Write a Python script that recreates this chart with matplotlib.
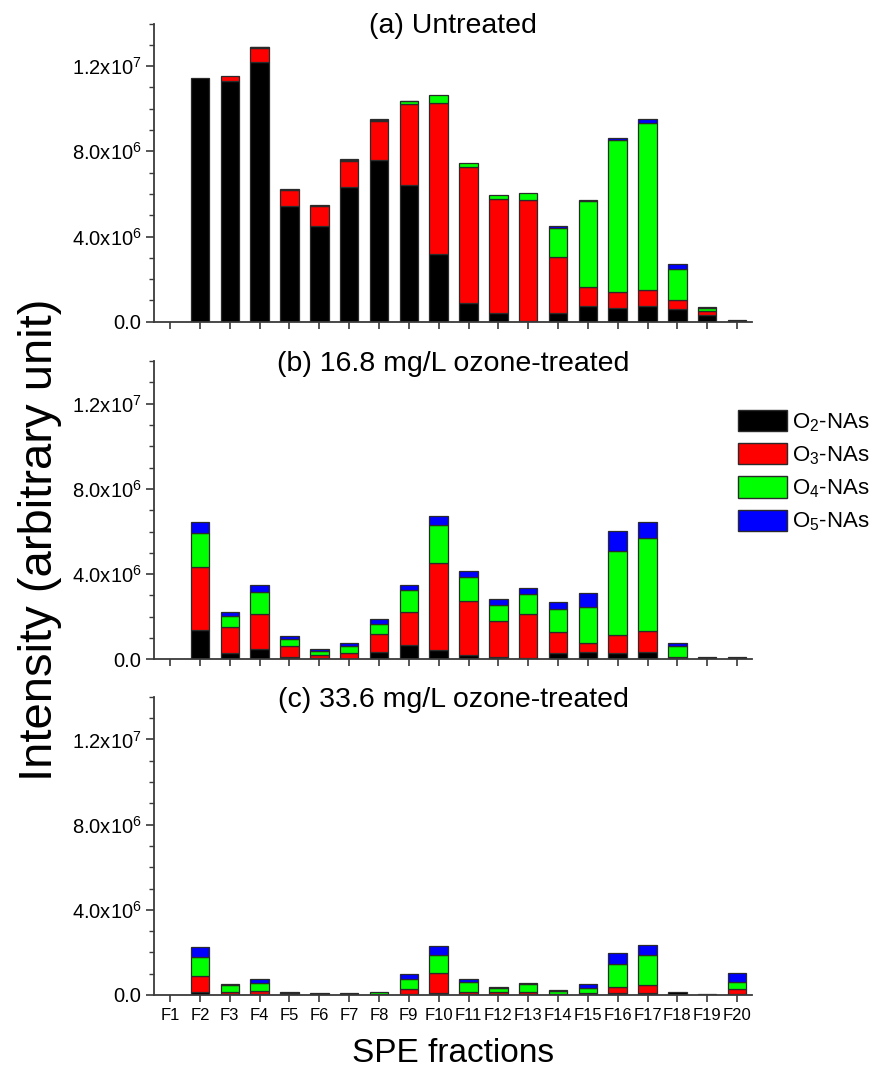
import numpy as np
import matplotlib
matplotlib.use('Agg')
import matplotlib.pyplot as plt
from matplotlib.patches import Patch
from matplotlib.ticker import MultipleLocator, FuncFormatter

plt.rcParams['font.family'] = ['Liberation Sans', 'DejaVu Sans']
plt.rcParams['mathtext.fontset'] = 'custom'
plt.rcParams['mathtext.rm'] = 'Liberation Sans'
plt.rcParams['mathtext.it'] = 'Liberation Sans:italic'
plt.rcParams['mathtext.bf'] = 'Liberation Sans:bold'

fractions = ['F1', 'F2', 'F3', 'F4', 'F5', 'F6', 'F7', 'F8', 'F9', 'F10',
             'F11', 'F12', 'F13', 'F14', 'F15', 'F16', 'F17', 'F18', 'F19', 'F20']

# intensities, x10^6
untreated_o2 = [0, 11.42, 11.31, 12.20, 5.43, 4.47, 6.32, 7.58, 6.40, 3.18,
                0.88, 0.42, 0.05, 0.39, 0.74, 0.66, 0.74, 0.61, 0.33, 0.06]
untreated_o3 = [0, 0, 0.24, 0.63, 0.77, 0.98, 1.24, 1.83, 3.84, 7.11,
                6.37, 5.34, 5.68, 2.67, 0.91, 0.72, 0.77, 0.41, 0.19, 0]
untreated_o4 = [0, 0, 0, 0.05, 0.03, 0.03, 0.05, 0.08, 0.10, 0.33,
                0.22, 0.17, 0.29, 1.36, 4.01, 7.17, 7.84, 1.46, 0.12, 0]
untreated_o5 = [0, 0, 0, 0.03, 0, 0, 0.04, 0.03, 0.03, 0,
                0, 0, 0, 0.05, 0.07, 0.08, 0.17, 0.22, 0.07, 0]

oz168_o2 = [0, 1.38, 0.28, 0.49, 0.13, 0.05, 0.03, 0.36, 0.67, 0.44,
            0.19, 0.13, 0.05, 0.28, 0.36, 0.31, 0.36, 0.08, 0.13, 0.09]
oz168_o3 = [0, 2.94, 1.22, 1.62, 0.50, 0.14, 0.28, 0.83, 1.57, 4.07,
            2.56, 1.67, 2.08, 1.00, 0.39, 0.82, 0.99, 0.05, 0, 0]
oz168_o4 = [0, 1.60, 0.53, 1.07, 0.31, 0.20, 0.32, 0.48, 1.03, 1.80,
            1.12, 0.75, 0.94, 1.07, 1.69, 3.97, 4.33, 0.50, 0, 0]
oz168_o5 = [0, 0.51, 0.21, 0.31, 0.14, 0.08, 0.14, 0.21, 0.22, 0.43,
            0.28, 0.30, 0.29, 0.33, 0.66, 0.93, 0.75, 0.12, 0, 0]

oz336_o2 = [0, 0.16, 0.05, 0.05, 0.10, 0.08, 0.11, 0.03, 0.05, 0.11,
            0.04, 0.04, 0.05, 0.02, 0.03, 0.08, 0.08, 0.16, 0.05, 0.03]
oz336_o3 = [0, 0.73, 0.11, 0.12, 0.06, 0, 0, 0.03, 0.22, 0.94,
            0.12, 0.09, 0.11, 0.02, 0.05, 0.31, 0.37, 0, 0, 0.24]
oz336_o4 = [0, 0.91, 0.29, 0.38, 0, 0, 0, 0.10, 0.47, 0.83,
            0.44, 0.20, 0.36, 0.16, 0.25, 1.08, 1.42, 0, 0, 0.36]
oz336_o5 = [0, 0.44, 0.05, 0.19, 0, 0, 0, 0, 0.23, 0.43,
            0.15, 0.03, 0.03, 0.02, 0.17, 0.52, 0.48, 0, 0, 0.41]

titles = ['(a) Untreated', '(b) 16.8 mg/L ozone-treated', '(c) 33.6 mg/L ozone-treated']
series_names = ['O$_{\\mathregular{2}}$-NAs', 'O$_{\\mathregular{3}}$-NAs',
                'O$_{\\mathregular{4}}$-NAs', 'O$_{\\mathregular{5}}$-NAs']
colors = ['#000000', '#ff0000', '#00ff00', '#0000ff']

panels = [
    [untreated_o2, untreated_o3, untreated_o4, untreated_o5],
    [oz168_o2, oz168_o3, oz168_o4, oz168_o5],
    [oz336_o2, oz336_o3, oz336_o4, oz336_o5],
]


def sci_fmt(v, pos):
    # Origin-style labels: 0.0, 4.0x10^6, 1.2x10^7
    if v < 1:
        return '0.0' if abs(v) < 1 else ''
    e = int(np.floor(np.log10(v) + 1e-9))
    return r'%.1fx10$^{\mathregular{%d}}$' % (v / 10 ** e, e)


W, H = 871, 1069
fig = plt.figure(figsize=(W / 100, H / 100), dpi=100)

bottoms_px = [321.7, 659.3, 995.0]
x = np.arange(1, len(fractions) + 1)
axes = []
for i, (data, title) in enumerate(zip(panels, titles)):
    ax = fig.add_axes([154 / W, 1 - bottoms_px[i] / H, (752 - 154) / W, 298.2 / H])
    base = np.zeros(len(x))
    for vals, c in zip(data, colors):
        h = np.array(vals) * 1e6
        lw = [0.9 if v > 0 else 0 for v in h]
        ax.bar(x, h, 0.62, bottom=base, color=c, edgecolor='#2a2a2a', linewidth=lw)
        base += h

    ax.set_xlim(0.46, 20.5)
    ax.set_ylim(0, 1.4e7)
    for s in ['top', 'right']:
        ax.spines[s].set_visible(False)
    for s in ['left', 'bottom']:
        ax.spines[s].set_color('#3a3a3a')
        ax.spines[s].set_linewidth(1.3)

    ax.yaxis.set_major_locator(MultipleLocator(4e6))
    ax.yaxis.set_minor_locator(MultipleLocator(1e6))
    ax.yaxis.set_major_formatter(FuncFormatter(sci_fmt))
    ax.set_xticks(x)
    ax.tick_params(axis='y', which='major', direction='out', length=6, width=1.2,
                   color='#3a3a3a', labelsize=14.5, pad=3)
    ax.tick_params(axis='y', which='minor', direction='out', length=3.5, width=1.0,
                   color='#3a3a3a')
    ax.tick_params(axis='x', direction='out', length=5, width=1.2, color='#3a3a3a',
                   labelsize=12, pad=4)
    if i == 2:
        ax.set_xticklabels(fractions)
    else:
        ax.tick_params(axis='x', labelbottom=False)

    ax.text(0.5, 0.99, title, transform=ax.transAxes, ha='center', va='center',
            fontsize=20.5)
    axes.append(ax)

handles = [Patch(facecolor=c, edgecolor='#2a2a2a', linewidth=1.0) for c in colors]
axes[1].legend(handles, series_names, loc='upper left',
               bbox_to_anchor=(738 / W, 1 - 410 / H), bbox_transform=fig.transFigure,
               frameon=False, fontsize=16, handlelength=2.2, handleheight=1.08,
               handletextpad=0.25, labelspacing=0.43, borderpad=0, borderaxespad=0)

fig.text(40 / W, 1 - 540 / H, 'Intensity (arbitrary unit)', rotation=90,
         ha='center', va='center', fontsize=34)
fig.text(453 / W, 1 - 1054 / H, 'SPE fractions', ha='center', va='center',
         fontsize=24)

fig.savefig('out.png', dpi=100)
